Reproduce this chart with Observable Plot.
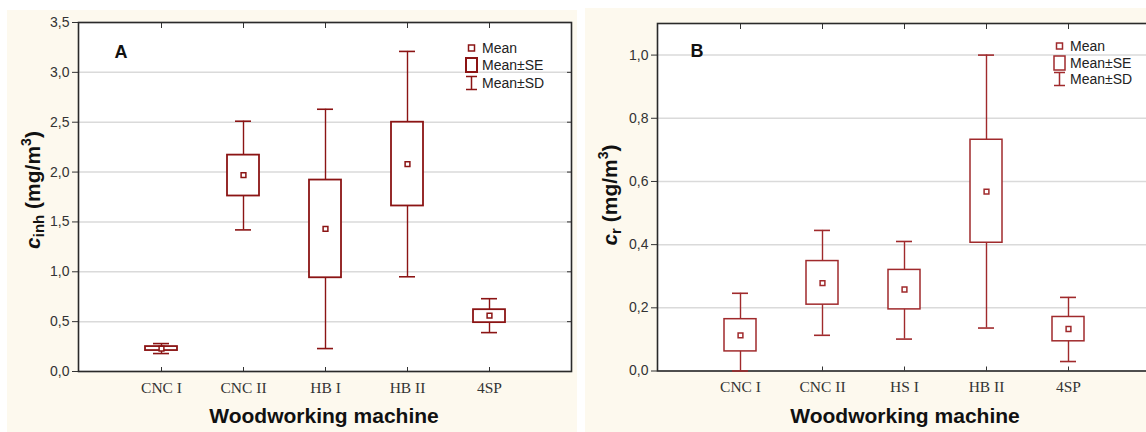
<!DOCTYPE html>
<html><head><meta charset="utf-8">
<script src="https://cdn.jsdelivr.net/npm/d3@7"></script>
<script src="https://cdn.jsdelivr.net/npm/@observablehq/plot@0.6"></script>
<style>
body{margin:0;background:#fff;}
#wrap{position:relative;width:1146px;height:432px;overflow:hidden;background:#fff;font-family:"Liberation Sans",Arial,sans-serif;}
.panel{position:absolute;background:#fdf9ee;overflow:hidden;}
.ytitle{position:absolute;transform:translate(-50%,-50%) rotate(-90deg);white-space:nowrap;font-weight:bold;font-size:21px;color:#111;}
.ytitle i{font-style:italic;}
.ytitle sub{font-size:15px;vertical-align:-4px;line-height:0;}
.ytitle sup{font-size:14px;vertical-align:9px;line-height:0;}
.xtitle{position:absolute;transform:translate(-50%,-50%);white-space:nowrap;font-weight:bold;font-size:21px;color:#111;}
.legend{position:absolute;font-size:14px;color:#222;}
.legend .row{display:flex;align-items:center;}
.legend svg{display:block;margin-right:4px;}
</style></head>
<body><div id="wrap">
<div class="panel" id="pA" style="left:7px;top:10px;width:570px;height:422px;"></div>
<div class="panel" id="pB" style="left:585px;top:8px;width:561px;height:424px;"></div>
</div>
<script>
// ---- Panel A data ----
const machinesA = ["CNC I", "CNC II", "HB I", "HB II", "4SP"];
const meanA = [0.23, 1.97, 1.43, 2.08, 0.56];
const seLoA = [0.21, 1.76, 0.94, 1.66, 0.49];
const seHiA = [0.25, 2.17, 1.92, 2.50, 0.62];
const sdLoA = [0.18, 1.42, 0.23, 0.95, 0.39];
const sdHiA = [0.28, 2.51, 2.63, 3.21, 0.73];
const yTicksA = [0, 0.5, 1, 1.5, 2, 2.5, 3, 3.5];

// ---- Panel B data ----
const machinesB = ["CNC I", "CNC II", "HS I", "HB II", "4SP"];
const meanB = [0.113, 0.278, 0.258, 0.568, 0.133];
const seLoB = [0.062, 0.210, 0.195, 0.406, 0.094];
const seHiB = [0.164, 0.348, 0.320, 0.732, 0.171];
const sdLoB = [-0.02, 0.113, 0.101, 0.136, 0.030];
const sdHiB = [0.246, 0.445, 0.410, 1.000, 0.233];
const yTicksB = [0, 0.2, 0.4, 0.6, 0.8, 1.0];

const legendLabels = ["Mean", "Mean±SE", "Mean±SD"];

const fmt = d => d3.format(".1f")(d).replace(".", ",");

function panel({machines, mean, seLo, seHi, sdLo, sdHi, yTicks, yDomain, color, width, height, margins, letter, letterDx, letterDy, boxSW}) {
  return Plot.plot({
    width, height,
    marginLeft: margins[0], marginTop: margins[1], marginRight: margins[2], marginBottom: margins[3],
    style: "background: transparent; max-width: none; overflow: visible; color: #333; font-family: 'Liberation Sans', Arial, sans-serif;",
    x: {type: "band", domain: machines, paddingInner: 0.61, paddingOuter: 0.805, label: null},
    y: {domain: yDomain, clamp: true, label: null},
    marks: [
      Plot.frame({fill: "white", stroke: null}),
      Plot.gridY(yTicks, {stroke: "#dadada", strokeOpacity: 1, strokeWidth: 1.5}),
      Plot.axisY(yTicks, {anchor: "left", tickSize: 6, tickPadding: 3, tickFormat: fmt, fontSize: 14, label: null}),
      Plot.axisY(yTicks, {anchor: "right", tickSize: -5, tickFormat: () => "", label: null}),
      Plot.axisX({anchor: "bottom", tickSize: -4, tickPadding: 14, fontSize: 15.5, fontFamily: "'Liberation Serif', 'DejaVu Serif', serif", label: null}),
      Plot.axisX({anchor: "top", tickSize: -5, tickFormat: () => "", label: null}),
      Plot.frame({stroke: "#2a2a2a", strokeWidth: 1.6}),
      Plot.ruleX(machines, {x: d => d, y1: (d, i) => sdLo[i], y2: (d, i) => sdHi[i], stroke: color, strokeWidth: 1.4}),
      Plot.tickY(machines, {x: d => d, y: (d, i) => sdHi[i], stroke: color, strokeWidth: 1.6, insetLeft: 8, insetRight: 8}),
      Plot.tickY(machines, {x: d => d, y: (d, i) => sdLo[i], stroke: color, strokeWidth: 1.6, insetLeft: 8, insetRight: 8}),
      Plot.barY(machines, {x: d => d, y1: (d, i) => seLo[i], y2: (d, i) => seHi[i], fill: "white", stroke: color, strokeWidth: boxSW}),
      Plot.dot(machines, {x: d => d, y: (d, i) => mean[i], symbol: "square", r: 2.7, fill: "white", stroke: color, strokeWidth: 1.5}),
      Plot.text([letter], {text: d => d, frameAnchor: "top-left", dx: letterDx, dy: letterDy, fontSize: 18, fontWeight: "bold", fill: "#111", lineAnchor: "top", textAnchor: "start"})
    ]
  });
}

const colorA = "#8b1414";
const colorB = "#a02a2c";

document.getElementById("pA").appendChild(panel({
  machines: machinesA, mean: meanA, seLo: seLoA, seHi: seHiA, sdLo: sdLoA, sdHi: sdHiA,
  yTicks: yTicksA, yDomain: [0, 3.5], color: colorA,
  width: 570, height: 422, margins: [71, 12, 6, 61],
  letter: "A", letterDx: 36, letterDy: 23, boxSW: 1.8
}));

document.getElementById("pB").appendChild(panel({
  machines: machinesB, mean: meanB, seLo: seLoB, seHi: seHiB, sdLo: sdLoB, sdHi: sdHiB,
  yTicks: yTicksB, yDomain: [0, 1.1], color: colorB,
  width: 580, height: 424, margins: [72, 15, 14, 61.5],
  letter: "B", letterDx: 33, letterDy: 21, boxSW: 1.5
}));

const wrap = document.getElementById("wrap");
function addDiv(cls, html, left, top) {
  const d = document.createElement("div");
  d.className = cls; d.innerHTML = html;
  d.style.left = left + "px"; d.style.top = top + "px";
  wrap.appendChild(d);
  return d;
}
addDiv("ytitle", "<i>c</i><sub>inh</sub> (mg/m<sup>3</sup>)", 33, 190);
addDiv("ytitle", "<i>c</i><sub>r</sub> (mg/m<sup>3</sup>)", 610, 195);
addDiv("xtitle", "Woodworking machine", 324, 416);
addDiv("xtitle", "Woodworking machine", 905, 416);

function icon(kind, color, sw) {
  const s = `stroke="${color}" fill="white"`;
  if (kind === 0) return `<svg width="13" height="16"><rect x="3.5" y="5" width="6" height="6" ${s} stroke-width="1.5"/></svg>`;
  if (kind === 1) return `<svg width="13" height="16"><rect x="1" y="1" width="11" height="14" ${s} stroke-width="${sw}"/></svg>`;
  return `<svg width="13" height="16"><path d="M1,1.5H12M6.5,1.5V14.5M1,14.5H12" stroke="${color}" stroke-width="1.5" fill="none"/></svg>`;
}
function legend(left, top, rowH, color, sw) {
  const html = legendLabels.map((t, i) => `<div class="row" style="height:${rowH}px">${icon(i, color, sw)}<span>${t}</span></div>`).join("");
  addDiv("legend", html, left, top);
}
legend(465, 39, 17.5, colorA, 2);
legend(1053, 38, 16.5, colorB, 1.5);
</script>
</body></html>
